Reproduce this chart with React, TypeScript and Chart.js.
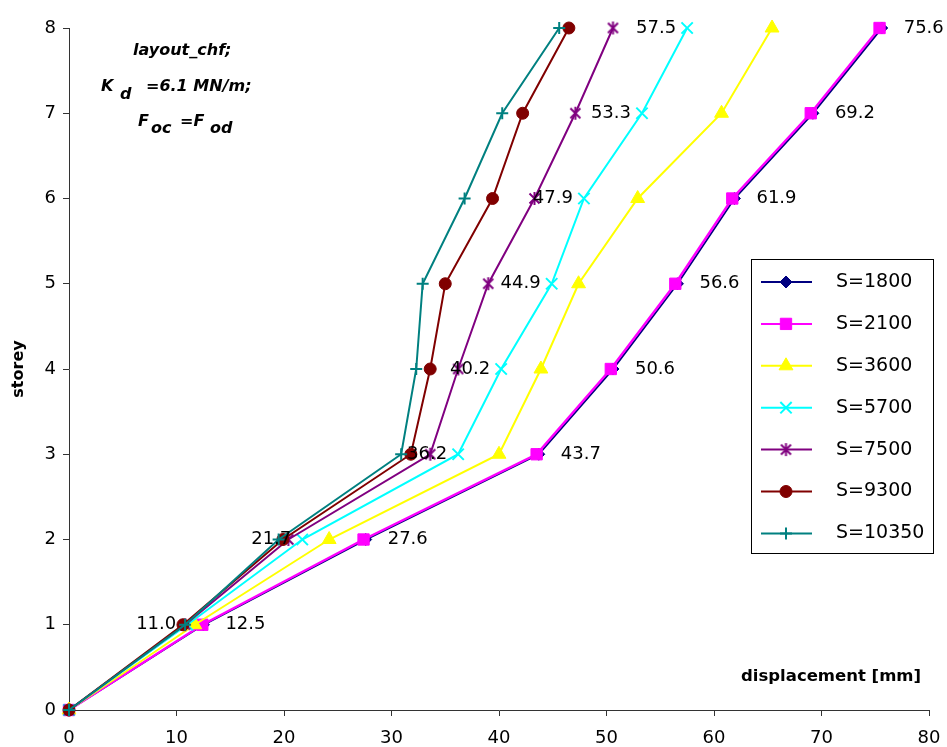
import React, { useEffect, useRef } from 'react';
import { Chart, registerables } from 'chart.js';
import { drawPoint } from 'chart.js/helpers';

Chart.register(...registerables);

// ---- data ----
const storeys = [0, 1, 2, 3, 4, 5, 6, 7, 8];
const seriesNames = ['S=1800', 'S=2100', 'S=3600', 'S=5700', 'S=7500', 'S=9300', 'S=10350'];
const s1800 = [0, 12.5, 27.6, 43.7, 50.6, 56.6, 61.9, 69.2, 75.6];
const s2100 = [0, 12.4, 27.4, 43.5, 50.4, 56.4, 61.7, 69.0, 75.4];
const s3600 = [0, 11.7, 24.2, 40.0, 43.9, 47.4, 52.9, 60.7, 65.4];
const s5700 = [0, 11.0, 21.7, 36.2, 40.2, 44.9, 47.9, 53.3, 57.5];
const s7500 = [0, 10.8, 20.4, 33.6, 36.2, 39.0, 43.3, 47.1, 50.6];
const s9300 = [0, 10.6, 19.9, 31.8, 33.6, 35.0, 39.4, 42.2, 46.5];
const s10350 = [0, 10.8, 19.5, 30.9, 32.3, 32.9, 36.8, 40.3, 45.6];
const seriesValues = [s1800, s2100, s3600, s5700, s7500, s9300, s10350];
const xTickStep = 10;
const yTickStep = 1;

const colors = ['#000080', '#FF00FF', '#FFFF00', '#00FFFF', '#800080', '#800000', '#008080'];
const FONT = 'DejaVu Sans';

function makeStar(color: string) {
  const c = document.createElement('canvas');
  c.width = 15;
  c.height = 15;
  const g = c.getContext('2d')!;
  g.strokeStyle = color;
  g.lineWidth = 2;
  g.beginPath();
  g.moveTo(2.5, 2.5); g.lineTo(12.5, 12.5);
  g.moveTo(12.5, 2.5); g.lineTo(2.5, 12.5);
  g.moveTo(7.5, 1); g.lineTo(7.5, 14);
  g.stroke();
  return c;
}

export default function App() {
  const ref = useRef<HTMLCanvasElement>(null);

  useEffect(() => {
    const canvas = ref.current!;
    const pointStyles: any[] = ['rectRot', 'rect', 'triangle', 'crossRot', makeStar(colors[4]), 'circle', 'cross'];
    const radii = [6, 8, 8, 8, 7.5, 6, 6];
    const lineWidths = [2, 2.5, 2, 2, 2, 2, 2];

    const datasets = seriesValues.map((vals, i) => ({
      label: seriesNames[i],
      data: vals.map((v, j) => ({ x: v, y: storeys[j] })),
      borderColor: colors[i],
      backgroundColor: colors[i],
      pointBackgroundColor: colors[i],
      pointBorderColor: colors[i],
      borderWidth: lineWidths[i],
      pointStyle: pointStyles[i],
      pointRadius: radii[i],
      pointBorderWidth: i === 3 || i === 6 ? 2 : 1,
      tension: 0,
      clip: false as any,
      order: seriesValues.length - i,
    }));

    const overlay = {
      id: 'overlay',
      afterDraw(chart: any) {
        const ctx = chart.ctx as CanvasRenderingContext2D;
        ctx.save();
        // data labels
        ctx.fillStyle = '#000';
        ctx.font = `18px "${FONT}"`;
        ctx.textBaseline = 'middle';
        const metaR = chart.getDatasetMeta(0);
        ctx.textAlign = 'left';
        s1800.forEach((v, j) => {
          if (j === 0) return;
          const p = metaR.data[j];
          ctx.fillText(v.toFixed(1), p.x + 22, p.y);
        });
        const metaL = chart.getDatasetMeta(3);
        ctx.textAlign = 'right';
        s5700.forEach((v, j) => {
          if (j === 0) return;
          const p = metaL.data[j];
          ctx.fillText(v.toFixed(1), p.x - 11, p.y);
        });

        // x axis title inside plot
        ctx.textAlign = 'left';
        ctx.textBaseline = 'alphabetic';
        ctx.font = `bold 16.5px "${FONT}"`;
        ctx.fillText('displacement [mm]', 741, 681);

        // annotation
        ctx.font = `italic bold 16px "${FONT}"`;
        ctx.fillText('layout_chf;', 133, 55);
        ctx.fillText('K', 101, 91);
        ctx.fillText('d', 120, 99);
        ctx.fillText('=6.1 MN/m;', 146, 91);
        ctx.fillText('F', 138, 126);
        ctx.fillText('oc', 151, 133);
        ctx.fillText('=F', 180, 126);
        ctx.fillText('od', 210, 133);

        // legend
        const lx = 751, ly = 259, lw = 182, lh = 294;
        ctx.fillStyle = '#fff';
        ctx.fillRect(lx, ly, lw, lh);
        ctx.strokeStyle = '#000';
        ctx.lineWidth = 1;
        ctx.strokeRect(lx + 0.5, ly + 0.5, lw, lh);
        seriesNames.forEach((name, i) => {
          const y = 282 + i * 41.9;
          ctx.strokeStyle = colors[i];
          ctx.lineWidth = 2;
          ctx.beginPath();
          ctx.moveTo(761, y);
          ctx.lineTo(812, y);
          ctx.stroke();
          ctx.fillStyle = colors[i];
          ctx.strokeStyle = colors[i];
          ctx.lineWidth = i === 3 || i === 6 ? 2 : 1;
          drawPoint(ctx, { pointStyle: pointStyles[i], radius: radii[i], rotation: 0, borderWidth: ctx.lineWidth } as any, 786, y);
          ctx.fillStyle = '#000';
          ctx.font = `19px "${FONT}"`;
          ctx.textAlign = 'left';
          ctx.textBaseline = 'middle';
          ctx.fillText(name, 836, y);
        });
        ctx.restore();
      },
    };

    const tickFont = { family: FONT, size: 18 };
    const chart = new Chart(canvas, {
      type: 'line',
      data: { datasets: datasets as any },
      options: {
        animation: false,
        responsive: false,
        layout: { padding: { left: 0, top: 28, right: 18, bottom: 0 } },
        plugins: { legend: { display: false }, tooltip: { enabled: false } },
        scales: {
          x: {
            type: 'linear',
            min: 0,
            max: 80,
            afterFit: (s: any) => { s.height = 37; s.paddingRight = 0; s.paddingLeft = 0; },
            ticks: { stepSize: xTickStep, font: tickFont, color: '#000', padding: 12, maxRotation: 0, autoSkip: false },
            grid: { drawOnChartArea: false, drawTicks: true, tickLength: 6, color: '#333' },
            border: { display: true, color: '#333', width: 1 },
          },
          y: {
            type: 'linear',
            min: 0,
            max: 8,
            afterFit: (s: any) => { s.width = 69; s.paddingTop = 0; s.paddingBottom = 0; },
            ticks: { stepSize: yTickStep, font: tickFont, color: '#000', padding: 7, autoSkip: false },
            grid: { drawOnChartArea: false, drawTicks: true, tickLength: 6, color: '#333' },
            border: { display: true, color: '#333', width: 1 },
            title: { display: true, text: 'storey', color: '#000', font: { family: FONT, size: 16, weight: 'bold' }, padding: { top: 9, bottom: 0 } },
          },
        },
      },
      plugins: [overlay],
    } as any);
    return () => chart.destroy();
  }, []);

  return (
    <div style={{ position: 'fixed', left: 0, top: 0, width: 947, height: 747, background: '#fff' }}>
      <canvas ref={ref} width={947} height={747} style={{ display: 'block' }} />
    </div>
  );
}
